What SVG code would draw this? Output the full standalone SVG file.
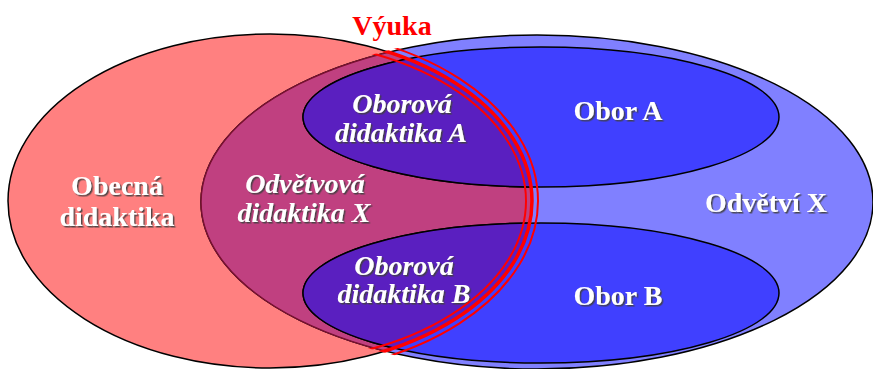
<svg xmlns="http://www.w3.org/2000/svg" width="873" height="369" viewBox="0 0 873 369">
<style>
.lbl{font-family:"Liberation Serif","Times New Roman",serif;font-weight:bold;font-size:28px;fill:#ffffff;text-anchor:middle;filter:url(#sh)}
.it{font-style:italic}
.edge{stroke:#000;stroke-width:1.5}
.red{fill:none;stroke:#ff0000}
</style>
<defs>
<filter id="sh" x="-20%" y="-30%" width="140%" height="160%">
<feDropShadow dx="1.5" dy="1.5" stdDeviation="0.6" flood-color="#404040" flood-opacity="0.9"/>
</filter>
<clipPath id="cSal"><ellipse cx="270" cy="201" rx="262" ry="167"/></clipPath>
<clipPath id="cOut"><ellipse cx="537" cy="202" rx="338" ry="169"/></clipPath>
</defs>
<rect width="873" height="369" fill="#ffffff"/>
<g id="obecna-didaktika">
<ellipse cx="270" cy="201" rx="262" ry="167" fill="#ff8080" class="edge"/>
<text class="lbl" x="117" y="195">Obecná</text>
<text class="lbl" x="117" y="226">didaktika</text>
</g>
<g id="odvetvi-x">
<ellipse cx="537" cy="202" rx="336" ry="167" fill="#8080ff" class="edge"/>
<ellipse cx="537" cy="202" rx="336" ry="167" fill="#c04080" stroke="#7a1030" stroke-width="1.5" clip-path="url(#cSal)"/>
<text class="lbl" x="766" y="212">Odvětví X</text>
<text class="lbl it" x="305" y="193">Odvětvová</text>
<text class="lbl it" x="304" y="222">didaktika X</text>
</g>
<g id="obor-a">
<ellipse cx="541" cy="117" rx="238" ry="70" fill="#4040ff" class="edge"/>
<ellipse cx="541" cy="117" rx="238" ry="70" fill="#5a1fc0" class="edge" clip-path="url(#cSal)"/>
<text class="lbl" x="618" y="120">Obor A</text>
<text class="lbl it" x="402" y="113">Oborová</text>
<text class="lbl it" x="401" y="142">didaktika A</text>
</g>
<g id="obor-b">
<ellipse cx="541" cy="293" rx="238" ry="70" fill="#4040ff" class="edge"/>
<ellipse cx="541" cy="293" rx="238" ry="70" fill="#5a1fc0" class="edge" clip-path="url(#cSal)"/>
<text class="lbl" x="618" y="305">Obor B</text>
<text class="lbl it" x="404" y="275">Oborová</text>
<text class="lbl it" x="404" y="303">didaktika B</text>
</g>
<g id="vyuka">
<g clip-path="url(#cOut)">
<ellipse class="red" cx="270" cy="201" rx="256" ry="161" stroke-width="2"/>
<ellipse class="red" cx="270" cy="201" rx="262" ry="167" stroke-width="3.5"/>
<ellipse class="red" cx="270" cy="201" rx="268" ry="173" stroke-width="2"/>
</g>
<text x="392" y="35" font-family="Liberation Serif,'Times New Roman',serif" font-weight="bold" font-size="28" fill="#ff0000" text-anchor="middle">Výuka</text>
</g>
<g id="connectors"/>
</svg>
